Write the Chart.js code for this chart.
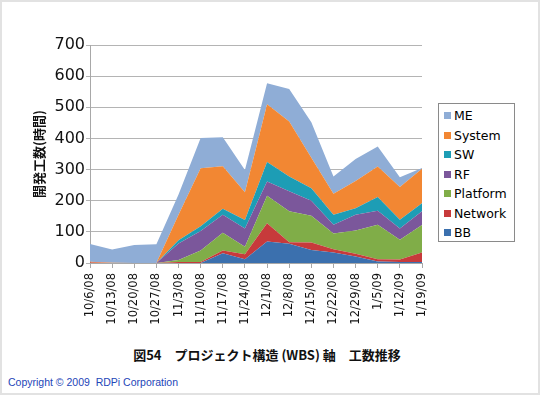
<!DOCTYPE html>
<html lang="ja">
<head>
<meta charset="UTF-8">
<title>工数推移</title>
<script src="https://cdn.jsdelivr.net/npm/chart.js@4.4.1/dist/chart.umd.min.js"></script>
<style>
  html, body { margin: 0; padding: 0; }
  body { width: 540px; height: 395px; position: relative; background: #fff; overflow: hidden; }
  .frame { position: absolute; left: 0; top: 0; width: 536px; height: 391px; border: 2px solid #e2e2e2; }
  .chart-box { position: absolute; left: 0; top: 0; width: 540px; height: 340px; }
  #legend { position: absolute; left: 438px; top: 103px; width: 75px; height: 137px; border: 1px solid #8a8a8a; background: #fff;
            font-family: "DejaVu Sans", sans-serif; font-size: 12.5px; color: #000; }
  #legend div { position: absolute; left: 5px; height: 16px; line-height: 16px; white-space: nowrap; }
  #legend span { display: inline-block; width: 7px; height: 7px; margin-right: 3px; vertical-align: 1px; }
  .title { position: absolute; left: 0; width: 534px; top: 345px; text-align: center;
           font-family: "Noto Sans CJK JP", sans-serif; font-weight: bold; font-size: 13px; color: #111; }
  .copy { position: absolute; left: 8px; top: 376px; font-family: "Liberation Sans", sans-serif; font-size: 10.5px; color: #2346b8; }
</style>
</head>
<body>
<div class="frame"></div>
<div class="chart-box"><canvas id="wbsChart" width="540" height="340"></canvas></div>
<div id="legend"></div>
<div class="title">図54　プロジェクト構造 (WBS) 軸　工数推移</div>
<div class="copy">Copyright © 2009&nbsp; RDPi Corporation</div>

<script>
// weekly dates
const weeks = ['10/6/08', '10/13/08', '10/20/08', '10/27/08', '11/3/08', '11/10/08', '11/17/08', '11/24/08',
               '12/1/08', '12/8/08', '12/15/08', '12/22/08', '12/29/08', '1/5/09', '1/12/09', '1/19/09'];

// hours per WBS item (stacked bottom -> top)
const bb       = [0, 0, 0, 0, 0, 0, 31, 12, 69, 62, 42, 34, 21, 5, 3, 3];
const network  = [2, 0, 0, 0, 3, 3, 9, 16, 59, 5, 24, 10, 9, 7, 8, 31];
const platform = [0, 0, 0, 0, 7, 37, 57, 24, 88, 99, 86, 51, 74, 111, 64, 88];
const rf       = [0, 0, 0, 0, 53, 63, 58, 59, 46, 64, 48, 28, 51, 45, 36, 44];
const sw       = [0, 0, 0, 0, 10, 15, 19, 27, 62, 48, 40, 32, 21, 44, 28, 26];
const system   = [2, 1, 0, 0, 82, 186, 137, 89, 186, 176, 98, 67, 87, 98, 105, 111];
const me       = [57, 42, 58, 60, 65, 97, 93, 72, 67, 105, 114, 56, 71, 64, 31, 2];

const yTicks = [0, 100, 200, 300, 400, 500, 600, 700];

const seriesNames  = ['BB', 'Network', 'Platform', 'RF', 'SW', 'System', 'ME'];
const seriesData   = [bb, network, platform, rf, sw, system, me];
const seriesColors = ['#3b70ae', '#c73a3b', '#80ad48', '#7b579b', '#1d9db5', '#f28733', '#8fadd6'];

const datasets = seriesNames.map((name, i) => ({
    label: name,
    data: seriesData[i],
    backgroundColor: seriesColors[i],
    borderColor: seriesColors[i],
    borderWidth: 0,
    pointRadius: 0,
    tension: 0,
    fill: i === 0 ? 'origin' : '-1'
}));

new Chart(document.getElementById('wbsChart').getContext('2d'), {
    type: 'line',
    data: { labels: weeks, datasets: datasets },
    options: {
        responsive: false,
        animation: false,
        layout: { padding: { top: 45, right: 118, bottom: 0, left: 27 } },
        plugins: { legend: { display: false }, tooltip: { enabled: false } },
        scales: {
            x: {
                offset: false,
                grid: { display: true, drawOnChartArea: false, drawTicks: true, tickLength: 5, color: '#a8a8a8' },
                border: { color: '#a8a8a8' },
                ticks: {
                    autoSkip: false, minRotation: 90, maxRotation: 90, padding: 5,
                    font: { family: 'DejaVu Sans', size: 11.5 }, color: '#111'
                },
                afterFit: function(scale) { scale.height = 77; }
            },
            y: {
                stacked: true,
                min: yTicks[0],
                max: yTicks[yTicks.length - 1],
                afterBuildTicks: function(scale) { scale.ticks = yTicks.map(v => ({ value: v })); },
                grid: { color: '#b4b4b4', tickLength: 4 },
                border: { color: '#a8a8a8' },
                ticks: { padding: 1, font: { family: 'DejaVu Sans', size: 16 }, color: '#111' },
                title: {
                    display: true, text: '開発工数(時間)',
                    font: { family: 'Noto Sans CJK JP', size: 13, weight: 'bold' }, color: '#111'
                },
                afterFit: function(scale) { scale.width = 63; }
            }
        }
    }
});

// legend, top entry is the top layer
const legend = document.getElementById('legend');
for (let k = seriesNames.length - 1, row = 0; k >= 0; k--, row++) {
    const item = document.createElement('div');
    item.style.top = (4 + row * 19.5) + 'px';
    item.innerHTML = '<span style="background:' + seriesColors[k] + '"></span>' + seriesNames[k];
    legend.appendChild(item);
}
</script>
</body>
</html>
